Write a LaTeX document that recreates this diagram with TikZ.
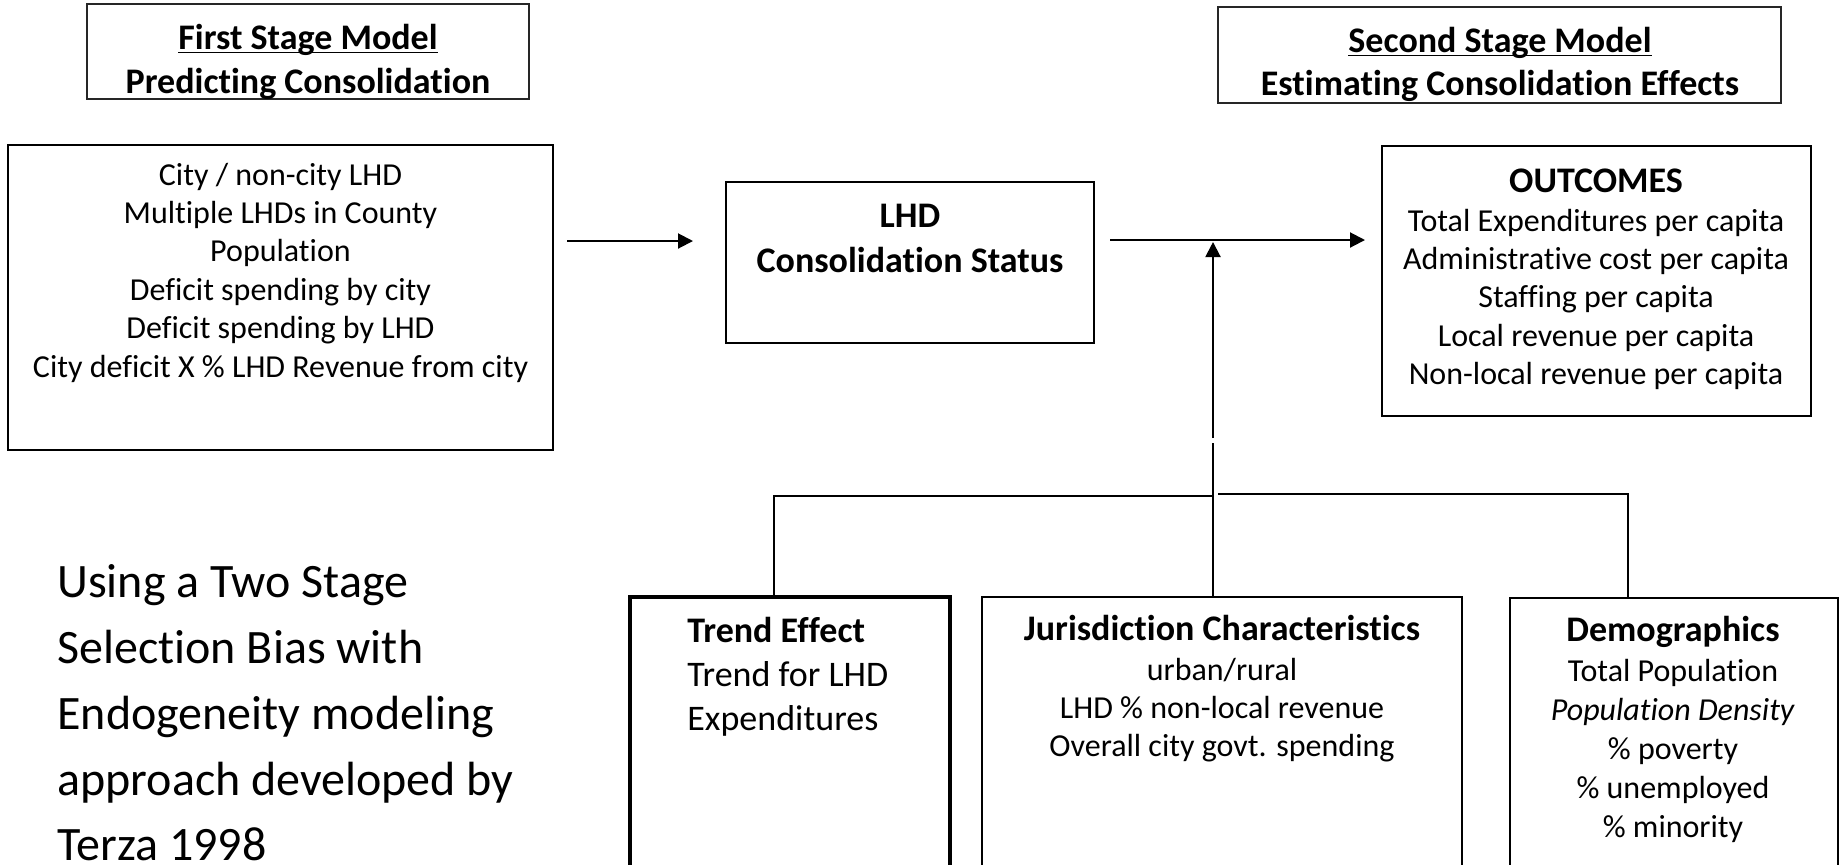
\documentclass[tikz,border=0pt]{standalone}
\usepackage{fontspec}
\setmainfont{Carlito}[Ligatures={NoCommon}]
\usetikzlibrary{arrows.meta,fit}
\newcommand\ulbar[1]{\setbox0\hbox{#1}\rlap{\rule[-2.2pt]{\wd0}{0.9pt}}\box0}
\newcommand\fbody{\fontsize{16}{19.2}\selectfont}
\newcommand\fhead{\fontsize{18}{22}\selectfont\bfseries}
\begin{document}
\begin{tikzpicture}[x=0.5pt,y=-0.5pt,
  boxline/.style={draw=black, line width=1pt, inner sep=0pt},
  titlebox/.style={draw=black!85, line width=0.75pt, inner sep=0pt},
  trendbox/.style={draw=black, line width=1.7pt, inner sep=0pt},
  txt/.style={inner sep=0pt, anchor=base},
  notetxt/.style={inner sep=0pt, anchor=base west, font=\fontsize{24}{29}\selectfont},
  conn/.style={line width=1pt},
  arr/.style={conn, -{Triangle[length=7.5pt,width=7.5pt]}}]
\clip (0,0) rectangle (1840,864);
\fill[white] (0,0) rectangle (1840,864);

% title boxes
\node[titlebox, fit={(87,4) (529,99)}] (s1) {};
\node[txt] (s1a) at (308,49) {\fhead\ulbar{First Stage Model}};
\node[txt] (s1b) at (308,93) {\fhead Predicting Consolidation};

\node[titlebox, fit={(1218,7) (1781,103)}] (s2) {};
\node[txt] (s2a) at (1500,52) {\fhead\ulbar{Second Stage Model}};
\node[txt] (s2b) at (1500,95) {\fhead Estimating Consolidation Effects};

% first stage predictors
\node[boxline, fit={(8,145) (553,450)}] (fs) {};
\node[txt] (fst) at (280.5,185) {\fbody\begin{tabular}[t]{@{}c@{}}City / non-city LHD\\Multiple LHDs in County\\Population\\Deficit spending by city\\Deficit spending by LHD\\City deficit X \% LHD Revenue from city\end{tabular}};

% LHD status
\node[boxline, fit={(726,182) (1094,343)}] (lhd) {};
\node[txt] (lhdt) at (910,227) {\fontsize{18}{22.5}\selectfont\bfseries\begin{tabular}[t]{@{}c@{}}LHD\\Consolidation Status\end{tabular}};

% outcomes
\node[boxline, fit={(1382,146) (1811,416)}] (out) {};
\node[txt] (outh) at (1596,192) {\fhead OUTCOMES};
\node[txt] (outt) at (1596,231) {\fbody\begin{tabular}[t]{@{}c@{}}Total Expenditures per capita\\Administrative cost per capita\\Staffing per capita\\Local revenue per capita\\Non-local revenue per capita\end{tabular}};

% bottom boxes
\node[trendbox, fit={(630,597) (950,900)}] (tr) {};
\node[txt, anchor=base west] (trt) at (687,642) {\fontsize{18}{22}\selectfont\begin{tabular}[t]{@{}l@{}}\textbf{Trend Effect}\\Trend for LHD\\Expenditures\end{tabular}};

\node[boxline, fit={(982,597) (1462,900)}] (ju) {};
\node[txt] (juh) at (1222,640) {\fhead Jurisdiction Characteristics};
\node[txt] (jut) at (1222,680) {\fbody\begin{tabular}[t]{@{}c@{}}urban/rural\\LHD \% non-local revenue\\Overall city govt. spending\end{tabular}};

\node[boxline, fit={(1510,598) (1838,900)}] (de) {};
\node[txt] (deh) at (1673,641) {\fhead Demographics};
\node[txt] (det) at (1673,681) {\fontsize{16}{19.6}\selectfont\begin{tabular}[t]{@{}c@{}}Total Population\\\textit{Population Density}\\\% poverty\\\% unemployed\\\% minority\end{tabular}};

% note
\node[notetxt] (note1) at (57,597) {Using a Two Stage};
\node[notetxt] (note2) at (57,663) {Selection Bias with};
\node[notetxt] (note3) at (57,729) {Endogeneity modeling};
\node[notetxt] (note4) at (57,795) {approach developed by};
\node[notetxt] (note5) at (57,860) {Terza 1998};

% connectors
\coordinate (a1s) at (567,241);
\coordinate (a1e) at (693,241);
\draw[arr] (a1s) -- (a1e);
\coordinate (a2s) at (1110,240);
\coordinate (a2e) at (1365,240);
\draw[arr] (a2s) -- (a2e);

\coordinate (vt) at (1213,242);
\coordinate (vg1) at (1213,443);
\coordinate (vg2) at (1213,438);
\coordinate (bj) at (1213,496);
\coordinate (bl) at (774,496);
\coordinate (br0) at (1218,494);
\coordinate (br1) at (1628,494);
\draw[conn] (ju.north -| vt) -- (vg1);
\draw[arr] (vg2) -- (vt);
\draw[conn] (tr.north -| bl) -- (bl) -- (bj);
\draw[conn] (br0) -- (br1) -- (de.north -| br1);
\end{tikzpicture}
\end{document}
